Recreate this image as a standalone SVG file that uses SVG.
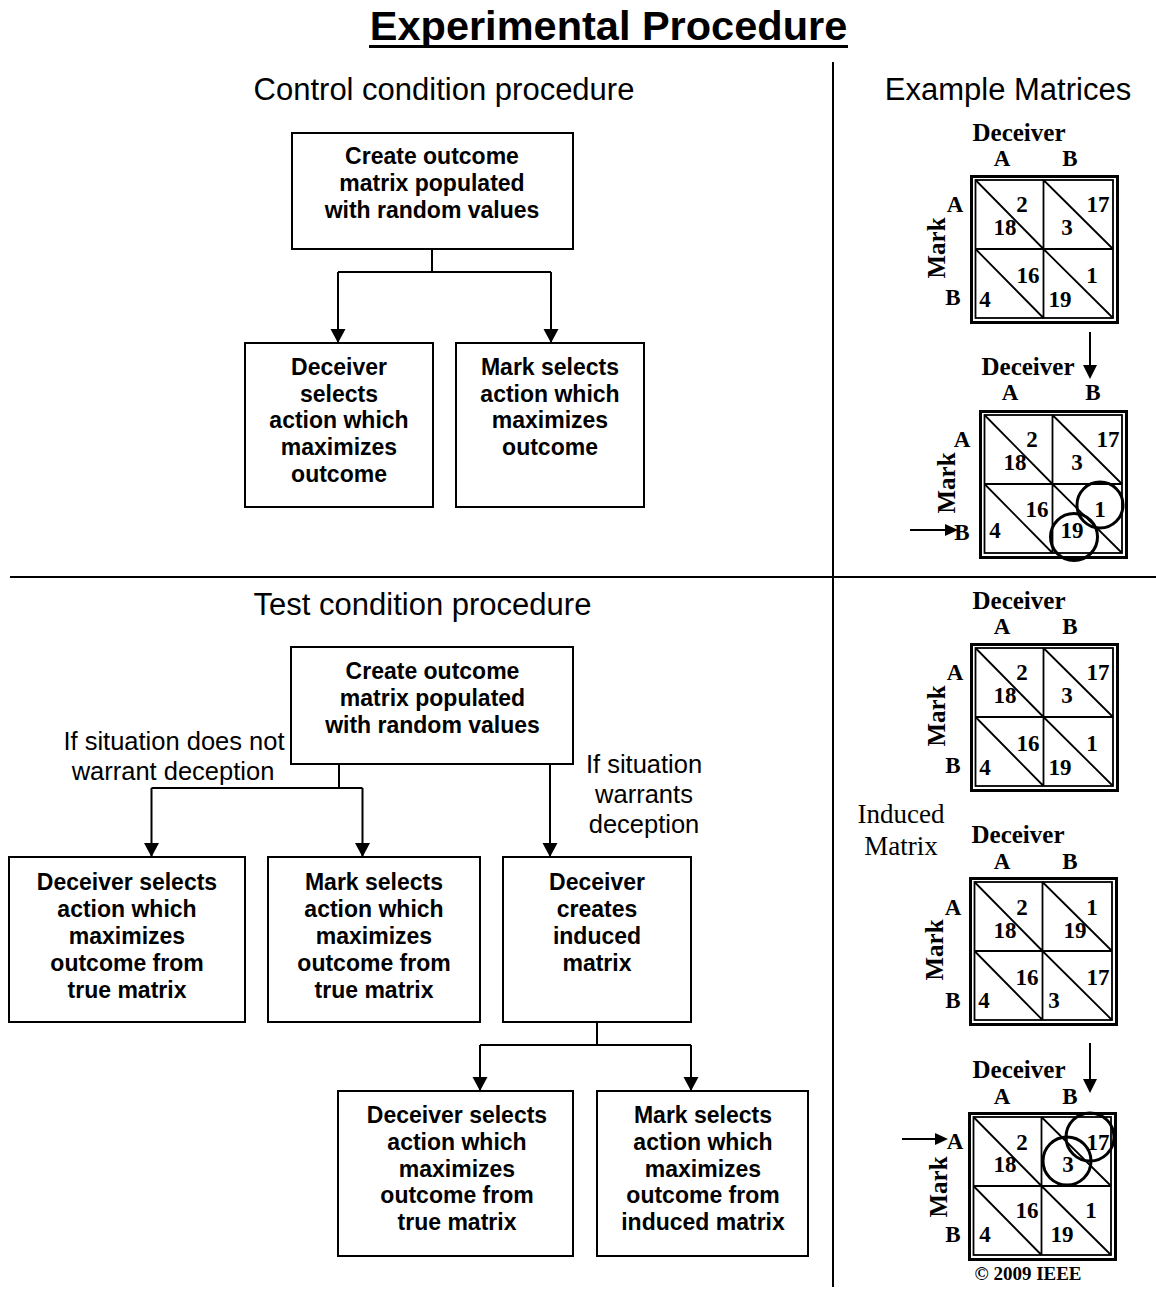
<svg xmlns="http://www.w3.org/2000/svg" xmlns:xlink="http://www.w3.org/1999/xlink" width="1156" height="1298" viewBox="0 0 1156 1298">
<style>
.bx{fill:#fff;stroke:#000;stroke-width:2}
.bt{font-family:"Liberation Sans",Arial,sans-serif;font-weight:bold;font-size:23px;text-anchor:middle;fill:#000}
.hd{font-family:"Liberation Sans",Arial,sans-serif;font-size:31px;text-anchor:middle;fill:#000}
.lb{font-family:"Liberation Sans",Arial,sans-serif;font-size:25.5px;text-anchor:middle;fill:#000}
.cn{fill:none;stroke:#000;stroke-width:2}
.sep{stroke:#000;stroke-width:2}
.mt{font-family:"Liberation Serif","Times New Roman",serif;font-weight:bold;text-anchor:middle;fill:#000}
.num{font-size:23px}
.hdr{font-size:25px}
.ab{font-size:23px}
.ind{font-family:"Liberation Serif","Times New Roman",serif;font-size:27px;text-anchor:middle;fill:#000}
.circ{fill:none;stroke:#000;stroke-width:3}
</style>
<defs>
<marker id="ah" markerUnits="userSpaceOnUse" markerWidth="16" markerHeight="16" refX="14" refY="7.5" orient="auto">
<path d="M0,0 L14,7.5 L0,15 Z" fill="#000"/>
</marker>
<g id="grid">
<rect x="1.5" y="1.5" width="146" height="146" fill="#fff" stroke="#000" stroke-width="3"/>
<rect x="5.5" y="5" width="137.5" height="138" fill="none" stroke="#000" stroke-width="1.8"/>
<path d="M73.5,5 V143 M5.5,74 H143 M5.5,5 L73.5,74 M73.5,5 L143,74 M5.5,74 L73.5,143 M73.5,74 L143,143" fill="none" stroke="#000" stroke-width="1.8"/>
</g>
</defs>
<rect width="1156" height="1298" fill="#fff"/>

<g id="title">
<text x="608.5" y="40" font-family="'Liberation Sans',Arial,sans-serif" font-weight="bold" font-size="41.5" text-anchor="middle">Experimental Procedure</text>
<line x1="369" y1="46.5" x2="848" y2="46.5" stroke="#000" stroke-width="3"/>
</g>

<g id="separators">
<line class="sep" x1="833" y1="62" x2="833" y2="1287"/>
<line class="sep" x1="10" y1="577" x2="1156" y2="577"/>
</g>

<g id="headings">
<text class="hd" x="444" y="100">Control condition procedure</text>
<text class="hd" x="1008" y="100">Example Matrices</text>
<text class="hd" x="422.5" y="615">Test condition procedure</text>
</g>

<g id="connectors">
<path class="cn" d="M432,249 V272 M338,272 H551"/>
<path class="cn" d="M338,272 V343" marker-end="url(#ah)"/>
<path class="cn" d="M551,272 V343" marker-end="url(#ah)"/>
<path class="cn" d="M339,764 V788 M151.5,788 H362.5"/>
<path class="cn" d="M151.5,788 V857" marker-end="url(#ah)"/>
<path class="cn" d="M362.5,788 V857" marker-end="url(#ah)"/>
<path class="cn" d="M550,764 V857" marker-end="url(#ah)"/>
<path class="cn" d="M597,1022 V1045 M480,1045 H691"/>
<path class="cn" d="M480,1045 V1091" marker-end="url(#ah)"/>
<path class="cn" d="M691,1045 V1091" marker-end="url(#ah)"/>
</g>

<g id="edge-labels">
<text class="lb" x="174" y="750">If situation does not</text>
<text class="lb" x="173" y="780">warrant deception</text>
<text class="lb" x="644" y="773">If situation</text>
<text class="lb" x="644" y="803">warrants</text>
<text class="lb" x="644" y="833">deception</text>
</g>

<g id="ctrl-create">
<rect class="bx" x="292" y="133" width="281" height="116"/>
<text class="bt" x="432" y="164">Create outcome</text>
<text class="bt" x="432" y="191">matrix populated</text>
<text class="bt" x="432" y="218">with random values</text>
</g>
<g id="ctrl-deceiver">
<rect class="bx" x="245" y="343" width="188" height="164"/>
<text class="bt" x="339" y="375">Deceiver</text>
<text class="bt" x="339" y="402">selects</text>
<text class="bt" x="339" y="428">action which</text>
<text class="bt" x="339" y="455">maximizes</text>
<text class="bt" x="339" y="482">outcome</text>
</g>
<g id="ctrl-mark">
<rect class="bx" x="456" y="343" width="188" height="164"/>
<text class="bt" x="550" y="375">Mark selects</text>
<text class="bt" x="550" y="402">action which</text>
<text class="bt" x="550" y="428">maximizes</text>
<text class="bt" x="550" y="455">outcome</text>
</g>

<g id="test-create">
<rect class="bx" x="291" y="647" width="282" height="117"/>
<text class="bt" x="432.5" y="679">Create outcome</text>
<text class="bt" x="432.5" y="706">matrix populated</text>
<text class="bt" x="432.5" y="733">with random values</text>
</g>
<g id="test-deceiver-true">
<rect class="bx" x="9" y="857" width="236" height="165"/>
<text class="bt" x="127" y="890">Deceiver selects</text>
<text class="bt" x="127" y="917">action which</text>
<text class="bt" x="127" y="944">maximizes</text>
<text class="bt" x="127" y="971">outcome from</text>
<text class="bt" x="127" y="998">true matrix</text>
</g>
<g id="test-mark-true">
<rect class="bx" x="268" y="857" width="212" height="165"/>
<text class="bt" x="374" y="890">Mark selects</text>
<text class="bt" x="374" y="917">action which</text>
<text class="bt" x="374" y="944">maximizes</text>
<text class="bt" x="374" y="971">outcome from</text>
<text class="bt" x="374" y="998">true matrix</text>
</g>
<g id="test-induce">
<rect class="bx" x="503" y="857" width="188" height="165"/>
<text class="bt" x="597" y="890">Deceiver</text>
<text class="bt" x="597" y="917">creates</text>
<text class="bt" x="597" y="944">induced</text>
<text class="bt" x="597" y="971">matrix</text>
</g>
<g id="test-deceiver-true-2">
<rect class="bx" x="338" y="1091" width="235" height="165"/>
<text class="bt" x="457" y="1123">Deceiver selects</text>
<text class="bt" x="457" y="1150">action which</text>
<text class="bt" x="457" y="1177">maximizes</text>
<text class="bt" x="457" y="1203">outcome from</text>
<text class="bt" x="457" y="1230">true matrix</text>
</g>
<g id="test-mark-induced">
<rect class="bx" x="597" y="1091" width="211" height="165"/>
<text class="bt" x="703" y="1123">Mark selects</text>
<text class="bt" x="703" y="1150">action which</text>
<text class="bt" x="703" y="1177">maximizes</text>
<text class="bt" x="703" y="1203">outcome from</text>
<text class="bt" x="703" y="1230">induced matrix</text>
</g>

<g id="matrix-1">
<use xlink:href="#grid" href="#grid" transform="translate(970,175)"/>
<text class="mt hdr" x="1019" y="141">Deceiver</text>
<text class="mt ab" x="1002" y="166">A</text>
<text class="mt ab" x="1070" y="166">B</text>
<text class="mt ab" x="955" y="212">A</text>
<text class="mt ab" x="953" y="305">B</text>
<text class="mt hdr" transform="translate(945,248) rotate(-90)">Mark</text>
<text class="mt num" x="1022" y="212">2</text>
<text class="mt num" x="1005" y="235">18</text>
<text class="mt num" x="1098" y="212">17</text>
<text class="mt num" x="1067" y="235">3</text>
<text class="mt num" x="1028" y="283">16</text>
<text class="mt num" x="985" y="307">4</text>
<text class="mt num" x="1092" y="283">1</text>
<text class="mt num" x="1060" y="307">19</text>
</g>

<g id="matrix-2">
<use xlink:href="#grid" href="#grid" transform="translate(979,410)"/>
<text class="mt hdr" x="1028" y="375">Deceiver</text>
<text class="mt ab" x="1010" y="400">A</text>
<text class="mt ab" x="1093" y="400">B</text>
<text class="mt ab" x="962" y="447">A</text>
<text class="mt ab" x="962" y="540">B</text>
<text class="mt hdr" transform="translate(955,483) rotate(-90)">Mark</text>
<text class="mt num" x="1032" y="447">2</text>
<text class="mt num" x="1015" y="470">18</text>
<text class="mt num" x="1108" y="447">17</text>
<text class="mt num" x="1077" y="470">3</text>
<text class="mt num" x="1037" y="517">16</text>
<text class="mt num" x="995" y="538">4</text>
<text class="mt num" x="1100" y="517">1</text>
<text class="mt num" x="1072" y="538">19</text>
<circle class="circ" cx="1100" cy="505" r="23"/>
<circle class="circ" cx="1074" cy="537" r="23.5"/>
<line x1="1090" y1="332" x2="1090" y2="366" stroke="#000" stroke-width="2"/>
<polygon points="1083,365 1097,365 1090,379" fill="#000"/>
<line x1="910" y1="530" x2="946" y2="530" stroke="#000" stroke-width="2"/>
<polygon points="945,524 945,536 958,530" fill="#000"/>
</g>

<g id="matrix-3">
<use xlink:href="#grid" href="#grid" transform="translate(970,643)"/>
<text class="mt hdr" x="1019" y="609">Deceiver</text>
<text class="mt ab" x="1002" y="634">A</text>
<text class="mt ab" x="1070" y="634">B</text>
<text class="mt ab" x="955" y="680">A</text>
<text class="mt ab" x="953" y="773">B</text>
<text class="mt hdr" transform="translate(945,716) rotate(-90)">Mark</text>
<text class="mt num" x="1022" y="680">2</text>
<text class="mt num" x="1005" y="703">18</text>
<text class="mt num" x="1098" y="680">17</text>
<text class="mt num" x="1067" y="703">3</text>
<text class="mt num" x="1028" y="751">16</text>
<text class="mt num" x="985" y="775">4</text>
<text class="mt num" x="1092" y="751">1</text>
<text class="mt num" x="1060" y="775">19</text>
</g>

<g id="induced-label">
<text class="ind" x="901" y="823">Induced</text>
<text class="ind" x="901" y="855">Matrix</text>
</g>

<g id="matrix-4">
<use xlink:href="#grid" href="#grid" transform="translate(969,877)"/>
<text class="mt hdr" x="1018" y="843">Deceiver</text>
<text class="mt ab" x="1002" y="869">A</text>
<text class="mt ab" x="1070" y="869">B</text>
<text class="mt ab" x="953" y="915">A</text>
<text class="mt ab" x="953" y="1008">B</text>
<text class="mt hdr" transform="translate(943,950) rotate(-90)">Mark</text>
<text class="mt num" x="1022" y="915">2</text>
<text class="mt num" x="1005" y="938">18</text>
<text class="mt num" x="1092" y="915">1</text>
<text class="mt num" x="1075" y="938">19</text>
<text class="mt num" x="1027" y="985">16</text>
<text class="mt num" x="1098" y="985">17</text>
<text class="mt num" x="984" y="1008">4</text>
<text class="mt num" x="1054" y="1008">3</text>
</g>

<g id="matrix-5">
<use xlink:href="#grid" href="#grid" transform="translate(968,1112)"/>
<text class="mt hdr" x="1019" y="1078">Deceiver</text>
<text class="mt ab" x="1002" y="1104">A</text>
<text class="mt ab" x="1070" y="1104">B</text>
<text class="mt ab" x="955" y="1149">A</text>
<text class="mt ab" x="953" y="1242">B</text>
<text class="mt hdr" transform="translate(947,1187) rotate(-90)">Mark</text>
<text class="mt num" x="1022" y="1150">2</text>
<text class="mt num" x="1005" y="1172">18</text>
<text class="mt num" x="1098" y="1150">17</text>
<text class="mt num" x="1068" y="1172">3</text>
<text class="mt num" x="1027" y="1218">16</text>
<text class="mt num" x="1091" y="1218">1</text>
<text class="mt num" x="985" y="1242">4</text>
<text class="mt num" x="1062" y="1242">19</text>
<circle class="circ" cx="1090" cy="1137" r="24"/>
<circle class="circ" cx="1067" cy="1161" r="24"/>
<line x1="1090" y1="1043" x2="1090" y2="1080" stroke="#000" stroke-width="2"/>
<polygon points="1083,1079 1097,1079 1090,1093" fill="#000"/>
<line x1="902" y1="1139" x2="936" y2="1139" stroke="#000" stroke-width="2"/>
<polygon points="935,1133 935,1145 948,1139" fill="#000"/>
<text class="mt" x="1028" y="1280" font-size="19">© 2009 IEEE</text>
</g>
</svg>
